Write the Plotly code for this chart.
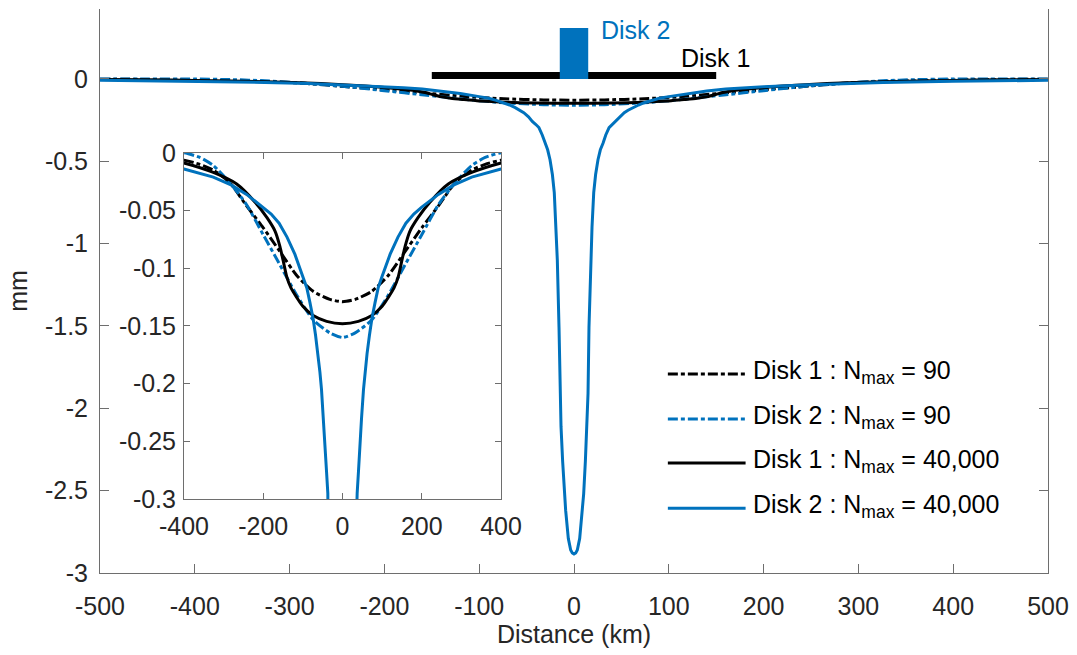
import plotly.graph_objects as go

# ---- data (half profiles, distance >= 0 km; curves are symmetric about 0) ----
dist_n90_km = [0, 32, 74, 116, 158, 200, 242, 284, 326, 360, 400, 450, 500]
disk1_n90_mm = [-0.129, -0.127, -0.120, -0.106, -0.0855, -0.065, -0.046, -0.026, -0.015, -0.010, -0.0063, -0.003, -0.001]
disk2_n90_mm = [-0.160, -0.156, -0.1447, -0.123, -0.097, -0.071, -0.045, -0.026, -0.011, -0.004, 0.0, 0.0005, 0.0]

dist_d1_n40k_km = [0, 40, 74, 100, 116, 130, 141, 150, 158, 170, 191, 220, 267, 326, 400, 450, 500]
disk1_n40k_mm = [-0.148, -0.146, -0.141, -0.133, -0.125, -0.117, -0.107, -0.093, -0.081, -0.068, -0.056, -0.043, -0.027, -0.017, -0.0088, -0.005, -0.003]

dist_d2_n40k_km = [0, 1.8, 3.5, 6, 8.8, 10.2, 12, 13.7, 14.8, 15.8, 17.6, 19, 20.8, 22.8, 25.3, 27.8,
                   30.6, 33.5, 37, 40.5, 44, 48, 53, 57, 62, 68, 74, 82, 90, 100, 120, 140, 160, 180,
                   200, 242, 280, 326, 400, 450, 500]
disk2_n40k_mm = [-2.885, -2.878, -2.86, -2.79, -2.62, -2.52, -2.32, -2.11, -1.91, -1.51, -1.10, -0.90,
                 -0.69, -0.58, -0.49, -0.43, -0.39, -0.34, -0.295, -0.275, -0.258, -0.23, -0.205, -0.19,
                 -0.174, -0.158, -0.144, -0.130, -0.117, -0.107, -0.088, -0.073, -0.061, -0.053, -0.047,
                 -0.036, -0.028, -0.021, -0.014, -0.011, -0.008]

series_names = ["Disk 1 : N<sub>max</sub> = 90", "Disk 2 : N<sub>max</sub> = 90",
                "Disk 1 : N<sub>max</sub> = 40,000", "Disk 2 : N<sub>max</sub> = 40,000"]

disk_labels = ["Disk 1", "Disk 2"]
disk_radius_km = [150, 15]
disk_height_mm = [0.043, 0.31]

main_xticks = [-500, -400, -300, -200, -100, 0, 100, 200, 300, 400, 500]
main_yticks = [0, -0.5, -1, -1.5, -2, -2.5, -3]
main_yticklabels = ["0", "-0.5", "-1", "-1.5", "-2", "-2.5", "-3"]
inset_xticks = [-400, -200, 0, 200, 400]
inset_yticks = [0, -0.05, -0.1, -0.15, -0.2, -0.25, -0.3]
inset_yticklabels = ["0", "-0.05", "-0.1", "-0.15", "-0.2", "-0.25", "-0.3"]

BLUE = "#0072BD"
BLACK = "#000000"
TXT = "#262626"
AX = "#6e6e6e"
FONT = "Arial, Liberation Sans, sans-serif"
FS = 25
DASHDOT = "10px,3px,4px,3px"


def mirror(xs, ys):
    xf = [-v for v in reversed(xs[1:])] + list(xs)
    yf = list(reversed(ys[1:])) + list(ys)
    return xf, yf


curves = [
    (dist_n90_km, disk1_n90_mm, BLACK, DASHDOT, "spline"),
    (dist_n90_km, disk2_n90_mm, BLUE, DASHDOT, "spline"),
    (dist_d1_n40k_km, disk1_n40k_mm, BLACK, "solid", "spline"),
    (dist_d2_n40k_km, disk2_n40k_mm, BLUE, "solid", "linear"),
]

fig = go.Figure()
for (xs, ys, col, dash, shp), name in zip(curves, series_names):
    xf, yf = mirror(xs, ys)
    for xa, ya in (("x", "y"), ("x2", "y2")):
        line = dict(color=col, width=3, dash=dash, shape=shp)
        if shp == "spline":
            line["smoothing"] = 0.6
        fig.add_trace(go.Scatter(
            x=xf, y=yf, mode="lines", name=name, showlegend=False,
            line=line, xaxis=xa, yaxis=ya, hoverinfo="skip"))

# disk sketches
disk_colors = [BLACK, BLUE]
for r, h, c in zip(disk_radius_km, disk_height_mm, disk_colors):
    fig.add_shape(type="rect", xref="x", yref="y", x0=-r, x1=r, y0=0, y1=h,
                  fillcolor=c, line=dict(width=0), layer="above")
fig.add_annotation(x=111, y=0.128, xref="x", yref="y", text=disk_labels[0], showarrow=False,
                   xanchor="left", yanchor="middle", font=dict(color=BLACK, size=FS, family=FONT))
fig.add_annotation(x=26, y=0.30, xref="x", yref="y", text=disk_labels[1], showarrow=False,
                   xanchor="left", yanchor="middle", font=dict(color=BLUE, size=FS, family=FONT))

# manual legend (long line samples)
leg_rows_y = [0.353, 0.273, 0.195, 0.115]
for (xs, ys, col, dash, shp), name, yy in zip(curves, series_names, leg_rows_y):
    fig.add_shape(type="line", xref="paper", yref="paper", x0=0.599, x1=0.681, y0=yy, y1=yy,
                  line=dict(color=col, width=3, dash=dash))
    fig.add_annotation(x=0.687, y=yy, xref="paper", yref="paper", text=name, showarrow=False,
                       xanchor="left", yanchor="middle", yshift=2,
                       font=dict(color=BLACK, size=FS, family=FONT))

axis_common = dict(showline=True, linecolor=AX, linewidth=1, showgrid=False, zeroline=False,
                   automargin=False, ticks="inside", tickcolor=AX,
                   tickfont=dict(size=FS, color=TXT, family=FONT))

fig.update_layout(
    width=1077, height=655,
    margin=dict(l=100, r=29, t=9, b=82),
    paper_bgcolor="white", plot_bgcolor="white",
    font=dict(family=FONT, size=FS, color=TXT),
    showlegend=False,
    xaxis=dict(domain=[0, 1], range=[-500, 500], tickvals=main_xticks,
               ticktext=[str(v) for v in main_xticks], ticklen=9, mirror=False,
               ticklabelstandoff=11,
               title=dict(text="Distance (km)", font=dict(size=FS, color=TXT), standoff=6),
               **axis_common),
    yaxis=dict(domain=[0, 1], range=[-3, 0.425], tickvals=main_yticks, ticktext=main_yticklabels,
               ticklen=9, mirror="ticks", ticklabelstandoff=6,
               title=dict(text="mm", font=dict(size=FS, color=TXT), standoff=10),
               **axis_common),
    xaxis2=dict(domain=[0.0886, 0.423], anchor="y2", range=[-400, 400], tickvals=inset_xticks,
                ticktext=[str(v) for v in inset_xticks], ticklen=6, mirror="ticks",
                ticklabelstandoff=5, **axis_common),
    yaxis2=dict(domain=[0.131, 0.745], anchor="x2", range=[-0.3, 0], tickvals=inset_yticks,
                ticktext=inset_yticklabels, ticklen=6, mirror="ticks", ticklabelstandoff=2,
                **axis_common),
)

fig.write_html("out.html")
